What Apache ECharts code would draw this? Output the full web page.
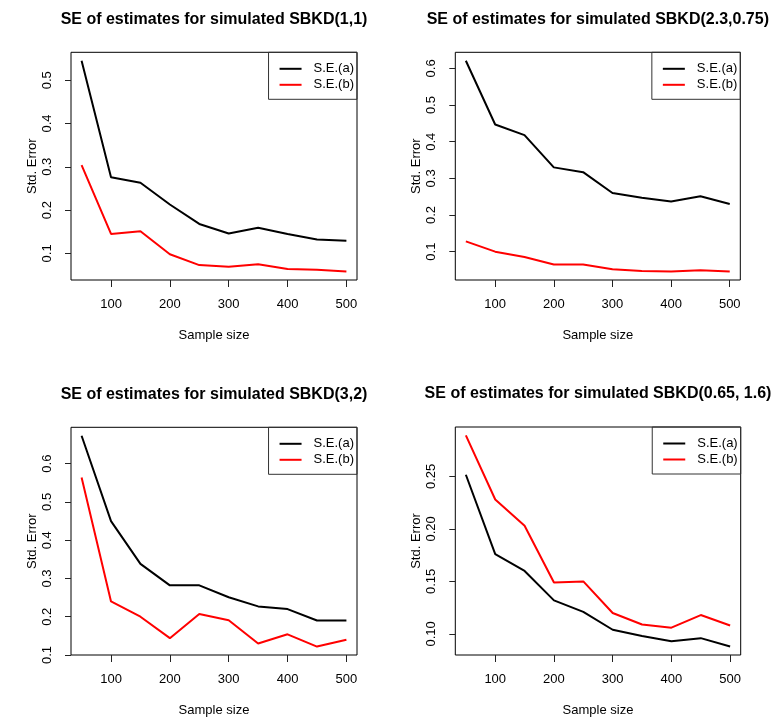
<!DOCTYPE html>
<html>
<head>
<meta charset="utf-8">
<script src="https://cdn.jsdelivr.net/npm/echarts@6/dist/echarts.min.js"></script>
<style>
html,body{margin:0;padding:0;background:#fff;}
#c{width:772px;height:718px;}
</style>
</head>
<body>
<div id="c"></div>
<script>
// ---- data ----
const sampleSizes = [50, 100, 150, 200, 250, 300, 350, 400, 450, 500];
const xTicks = [100, 200, 300, 400, 500];
const seriesNames = ['S.E.(a)', 'S.E.(b)'];
const titles = [
  'SE of estimates for simulated SBKD(1,1)',
  'SE of estimates for simulated SBKD(2.3,0.75)',
  'SE of estimates for simulated SBKD(3,2)',
  'SE of estimates for simulated SBKD(0.65, 1.6)'
];
const seA_1 = [0.545, 0.276, 0.263, 0.213, 0.168, 0.146, 0.159, 0.145, 0.132, 0.129];
const seB_1 = [0.304, 0.145, 0.151, 0.098, 0.073, 0.069, 0.075, 0.064, 0.062, 0.058];
const seA_2 = [0.621, 0.447, 0.418, 0.330, 0.317, 0.260, 0.247, 0.237, 0.251, 0.230];
const seB_2 = [0.128, 0.100, 0.0855, 0.065, 0.065, 0.052, 0.0475, 0.0457, 0.049, 0.0457];
const seA_3 = [0.673, 0.450, 0.338, 0.282, 0.282, 0.251, 0.227, 0.220, 0.190, 0.190];
const seB_3 = [0.564, 0.240, 0.200, 0.144, 0.207, 0.191, 0.130, 0.154, 0.122, 0.140];
const seA_4 = [0.2516, 0.176, 0.160, 0.132, 0.121, 0.104, 0.098, 0.093, 0.096, 0.088];
const seB_4 = [0.289, 0.228, 0.203, 0.149, 0.150, 0.120, 0.109, 0.106, 0.118, 0.108];
const yTicks_1 = [0.1, 0.2, 0.3, 0.4, 0.5];
const yTicks_2 = [0.1, 0.2, 0.3, 0.4, 0.5, 0.6];
const yTicks_3 = [0.1, 0.2, 0.3, 0.4, 0.5, 0.6];
const yTicks_4 = [0.10, 0.15, 0.20, 0.25];
const yDecimals = [1, 1, 1, 2];

// ---- layout ----
const FONT = 'Liberation Sans, Arial, Helvetica, sans-serif';
const W = 772;
const boxes = [
  {left: 71, top: 52.3, width: 286, height: 227.7},
  {left: 455.3, top: 52.3, width: 285, height: 227.7},
  {left: 71, top: 427.3, width: 286, height: 228.4},
  {left: 455.3, top: 427, width: 285.4, height: 228.7}
];
const seA = [seA_1, seA_2, seA_3, seA_4];
const seB = [seB_1, seB_2, seB_3, seB_4];
const yTicks = [yTicks_1, yTicks_2, yTicks_3, yTicks_4];

function rRange(vals) {
  const lo = Math.min(...vals), hi = Math.max(...vals);
  const pad = (hi - lo) * 0.04;
  return [lo - pad, hi + pad];
}
const xr = rRange(sampleSizes);

const option = {
  animation: false,
  backgroundColor: '#fff',
  title: boxes.map((b, i) => ({
    text: titles[i],
    left: b.left + b.width / 2,
    top: b.top - 41,
    padding: 0,
    textAlign: 'center',
    textStyle: {fontFamily: FONT, fontWeight: 'bold', fontSize: 16, color: '#000'}
  })),
  grid: boxes.map(b => ({
    left: b.left, top: b.top, width: b.width, height: b.height,
    show: true, borderColor: '#000', borderWidth: 1, backgroundColor: 'transparent'
  })),
  xAxis: boxes.map((b, i) => ({
    type: 'value', gridIndex: i, min: xr[0], max: xr[1],
    name: 'Sample size', nameLocation: 'middle', nameGap: 49,
    nameTextStyle: {fontFamily: FONT, fontSize: 13, color: '#000'},
    axisLine: {show: false},
    splitLine: {show: false},
    axisTick: {show: true, length: 7, customValues: xTicks, lineStyle: {color: '#222', width: 1}},
    axisLabel: {customValues: xTicks, margin: 18, fontFamily: FONT, fontSize: 13, color: '#000'}
  })),
  yAxis: boxes.map((b, i) => {
    const r = rRange(seA[i].concat(seB[i]));
    return {
      type: 'value', gridIndex: i, min: r[0], max: r[1],
      name: 'Std. Error', nameLocation: 'middle', nameGap: 32,
      nameTextStyle: {fontFamily: FONT, fontSize: 13, color: '#000'},
      axisLine: {show: false},
      splitLine: {show: false},
      axisTick: {show: true, length: 6, customValues: yTicks[i], lineStyle: {color: '#222', width: 1}},
      axisLabel: {
        customValues: yTicks[i], rotate: 90, margin: 17,
        fontFamily: FONT, fontSize: 13, color: '#000',
        formatter: v => v.toFixed(yDecimals[i])
      }
    };
  }),
  legend: boxes.map(b => ({
    orient: 'vertical',
    right: W - (b.left + b.width),
    top: b.top,
    data: seriesNames,
    icon: 'rect',
    itemWidth: 22, itemHeight: 2, itemGap: 3,
    padding: [10, 3, 8, 11],
    borderColor: '#333', borderWidth: 1,
    selectedMode: false,
    textStyle: {fontFamily: FONT, fontSize: 13, color: '#000', padding: [0, 0, 0, 7]}
  })),
  series: []
};

boxes.forEach((b, i) => {
  [seA[i], seB[i]].forEach((vals, k) => {
    option.series.push({
      type: 'line', name: seriesNames[k],
      xAxisIndex: i, yAxisIndex: i,
      data: sampleSizes.map((x, j) => [x, vals[j]]),
      symbol: 'none',
      color: k === 0 ? '#000000' : '#ff0000',
      lineStyle: {width: 2, color: k === 0 ? '#000000' : '#ff0000'}
    });
  });
});

const chart = echarts.init(document.getElementById('c'), null, {renderer: 'canvas'});
chart.setOption(option);
</script>
</body>
</html>
